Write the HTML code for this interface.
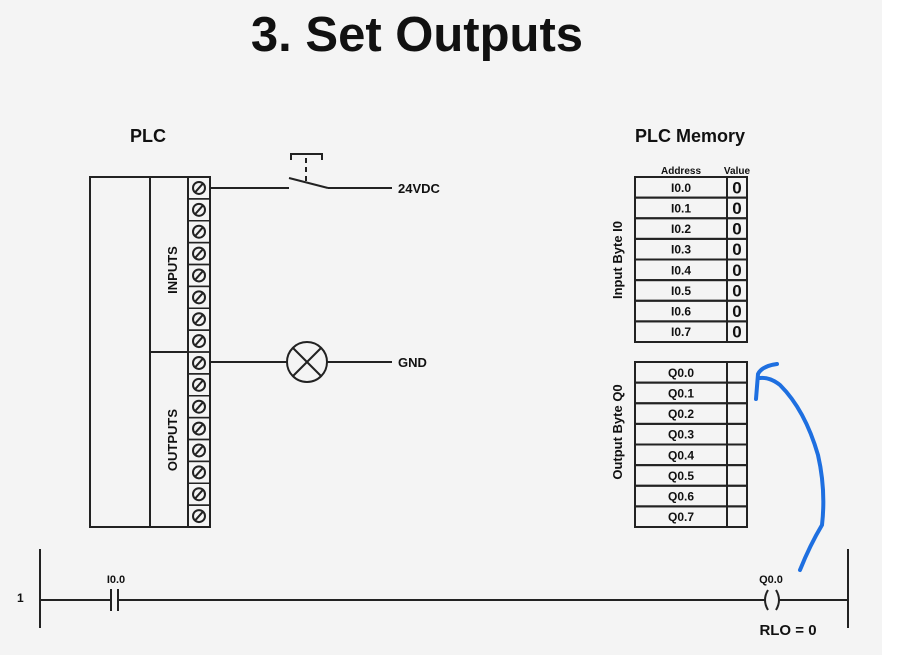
<!DOCTYPE html>
<html><head><style>
body{margin:0;width:900px;height:659px;background:#fff;overflow:hidden}
svg{display:block}
text{font-family:"Liberation Sans",sans-serif;font-weight:bold;fill:#111}
</style></head><body>
<svg width="900" height="659" viewBox="0 0 900 659">
<rect x="0" y="0" width="882" height="655" fill="#f4f4f4"/>
<text x="417" y="51" font-size="49" text-anchor="middle">3. Set Outputs</text>
<text x="148" y="142" font-size="18" text-anchor="middle">PLC</text>
<text x="690" y="142" font-size="18" text-anchor="middle">PLC Memory</text>
<g stroke="#222" stroke-width="2" fill="none">
<rect x="90" y="177" width="120" height="350"/>
<line x1="150" y1="177" x2="150" y2="527"/>
<line x1="188" y1="177" x2="188" y2="527"/>
<line x1="150" y1="352" x2="188" y2="352"/>
</g>
<g id="terms" stroke="#222" fill="none">
</g>
<text transform="translate(177,270) rotate(-90)" font-size="13" text-anchor="middle">INPUTS</text>
<text transform="translate(177,440) rotate(-90)" font-size="13" text-anchor="middle">OUTPUTS</text>
<g stroke="#222" stroke-width="2" fill="none">
<line x1="210" y1="188" x2="289" y2="188"/>
<line x1="289" y1="178" x2="328" y2="188"/>
<line x1="328" y1="188" x2="392" y2="188"/>
<line x1="306" y1="181" x2="306" y2="155" stroke-dasharray="5,4"/>
<polyline points="291,160 291,154 322,154 322,160"/>
<line x1="210" y1="362" x2="287" y2="362"/>
<line x1="327" y1="362" x2="392" y2="362"/>
<circle cx="307" cy="362" r="20"/>
<line x1="293" y1="348" x2="321" y2="376"/>
<line x1="321" y1="348" x2="293" y2="376"/>
</g>
<text x="398" y="193" font-size="13">24VDC</text>
<text x="398" y="367" font-size="13">GND</text>
<text x="681" y="174" font-size="10" text-anchor="middle">Address</text>
<text x="737" y="174" font-size="10" text-anchor="middle">Value</text>
<g id="tables"></g>
<text transform="translate(622,260) rotate(-90)" font-size="13" text-anchor="middle">Input Byte I0</text>
<text transform="translate(622,432) rotate(-90)" font-size="13" text-anchor="middle">Output Byte Q0</text>
<g stroke="#222" fill="none">
<line x1="40" y1="549" x2="40" y2="628" stroke-width="2"/>
<line x1="848" y1="549" x2="848" y2="628" stroke-width="2"/>
<line x1="40" y1="600" x2="110" y2="600" stroke-width="2"/>
<line x1="118" y1="600" x2="766" y2="600" stroke-width="2"/>
<line x1="778" y1="600" x2="848" y2="600" stroke-width="2"/>
<line x1="111" y1="589" x2="111" y2="611" stroke-width="2"/>
<line x1="118" y1="589" x2="118" y2="611" stroke-width="2"/>
<path d="M768,590 Q762,600 768,610" stroke-width="2"/>
<path d="M776,590 Q782,600 776,610" stroke-width="2"/>
</g>
<text x="17" y="602" font-size="12">1</text>
<text x="116" y="583" font-size="11" text-anchor="middle">I0.0</text>
<text x="771" y="583" font-size="11" text-anchor="middle">Q0.0</text>
<text x="788" y="635" font-size="15" text-anchor="middle">RLO = 0</text>
<path d="M800,570 Q810,545 822,525 Q826,490 818,455 Q805,410 780,385 Q770,377 760,378" stroke="#1e6fe0" stroke-width="4" fill="none" stroke-linecap="round"/>
<path d="M777,364 Q762,366 758,374 L756,399" stroke="#1e6fe0" stroke-width="4" fill="none" stroke-linecap="round"/>
</svg>
<script>
var ns="http://www.w3.org/2000/svg";
function el(p,t,a,tx){var e=document.createElementNS(ns,t);for(var k in a)e.setAttribute(k,a[k]);if(tx)e.textContent=tx;p.appendChild(e);return e;}
var g=document.getElementById("terms");
var h=350/16;
for(var i=0;i<16;i++){var y=177+i*h;
el(g,"rect",{x:188,y:y,width:22,height:h,"stroke-width":1.5});
el(g,"circle",{cx:199,cy:y+h/2,r:6,"stroke-width":2});
el(g,"line",{x1:203,y1:y+h/2-4.5,x2:195,y2:y+h/2+4.5,"stroke-width":2});}
var t=document.getElementById("tables");
function table(y0,pre,val){var rh=165/8;
for(var i=0;i<8;i++){var y=y0+i*rh;
el(t,"rect",{x:635,y:y,width:92,height:rh,fill:"none",stroke:"#222","stroke-width":2});
el(t,"rect",{x:727,y:y,width:20,height:rh,fill:"none",stroke:"#222","stroke-width":2});
el(t,"text",{x:681,y:y+rh/2+4.5,"font-size":12,"text-anchor":"middle"},pre+i);
if(val)el(t,"text",{x:737,y:y+rh/2+6,"font-size":17,"text-anchor":"middle"},"0");}}
table(177,"I0.",true);table(362,"Q0.",false);
</script>
</body></html>
